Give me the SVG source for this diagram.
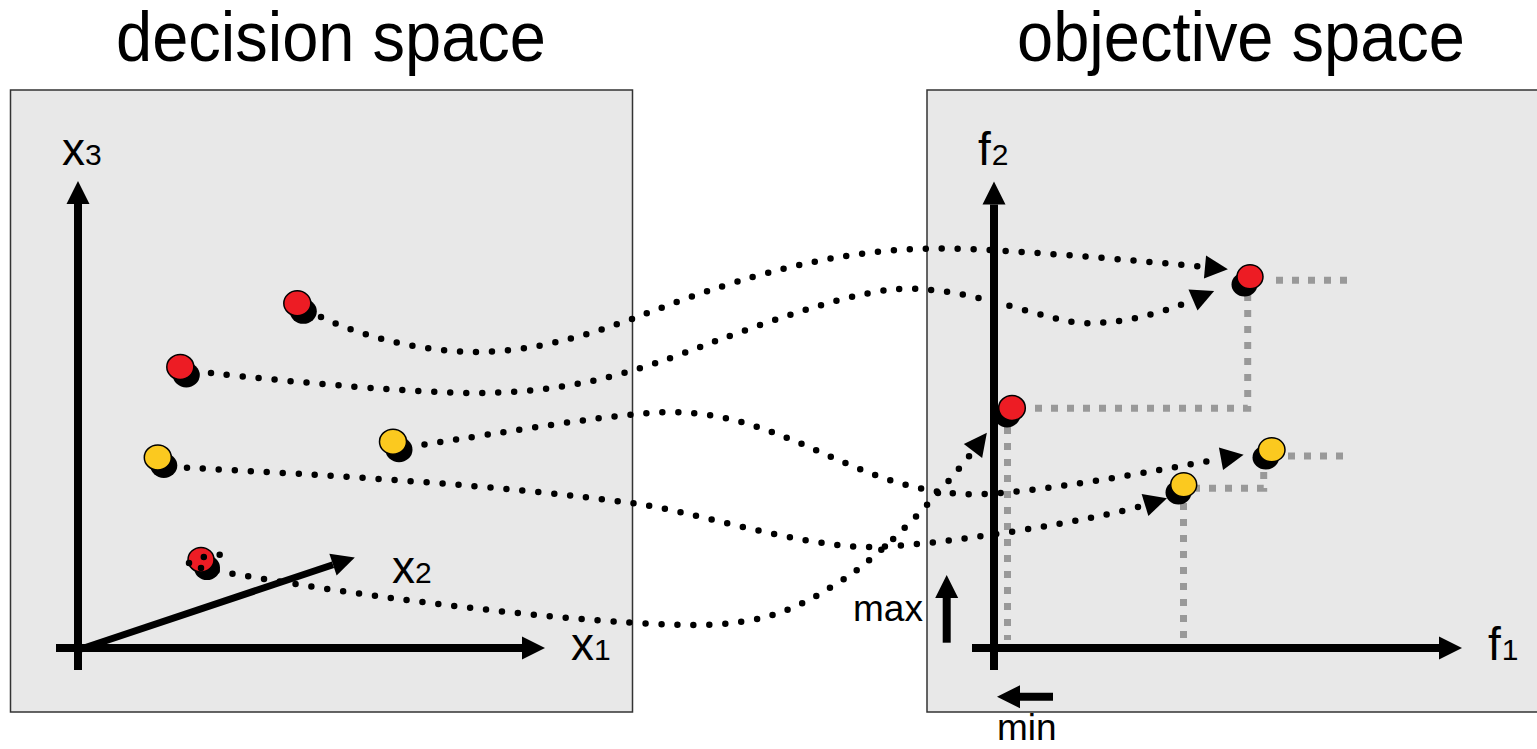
<svg xmlns="http://www.w3.org/2000/svg" width="1537" height="749" viewBox="0 0 1537 749">
<style>
.box{fill:#e8e8e8;stroke:#333;stroke-width:1.5}
.axis{fill:none;stroke:#000;stroke-width:8;marker-end:url(#ah)}
.axis2{fill:none;stroke:#000;stroke-width:7;marker-end:url(#ah)}
.conn{fill:none;stroke:#000;stroke-width:6.5;stroke-linecap:round;stroke-dasharray:0 16;marker-end:url(#ah)}
.curl{fill:none;stroke:#000;stroke-width:6.5;stroke-linecap:round;stroke-dasharray:0 16}
.front{fill:none;stroke:#999;stroke-width:7;stroke-dasharray:7 9}
.shadow{fill:#000}
.red{fill:#ed1c24;stroke:#000;stroke-width:1.5}
.yellow{fill:#fbc91f;stroke:#000;stroke-width:1.5}
text{font-family:"Liberation Sans",Arial,Helvetica,sans-serif;fill:#000}
.title{font-size:65px}
.lbl{font-size:46px}
.sub{font-size:30px}
.small{font-size:37px}
</style>
<defs>
<marker id="ah" markerUnits="userSpaceOnUse" orient="auto" markerWidth="1" markerHeight="1" refX="0" refY="0" overflow="visible">
<path d="M0,-11.5 L23,0 L0,11.5 z" fill="#000" stroke="none"/>
</marker>
</defs>

<g id="decision-space">
<rect class="box" x="10.5" y="90" width="622" height="622"/>
<text class="title" transform="translate(331,61) scale(1,1.07)" text-anchor="middle">decision space</text>
</g>
<g id="objective-space">
<rect class="box" x="927" y="90" width="620" height="622"/>
<text class="title" transform="translate(1241,61) scale(1,1.07)" text-anchor="middle">objective space</text>
</g>

<g id="attainment-lines">
<path class="front" d="M1276,280.3 H1348"/>
<path class="front" d="M1247.7,294 V408.3 H1030"/>
<path class="front" d="M1007.5,427 V640"/>
<path class="front" d="M1288,456 H1346"/>
<path class="front" d="M1263.7,472 V488.3 H1196"/>
<path class="front" d="M1183.5,503 V640"/>
</g>

<g id="decision-axes">
<path class="axis" d="M78,670 V204"/>
<path class="axis" d="M56,648 H522"/>
<path class="axis2" d="M78,650 L333,564.7"/>
<text class="lbl" x="62" y="165">x<tspan class="sub">3</tspan></text>
<text class="lbl" x="571" y="660">x<tspan class="sub">1</tspan></text>
<text class="lbl" x="392" y="583">x<tspan class="sub">2</tspan></text>
</g>

<g id="objective-axes">
<path class="axis" d="M994,670 V204.5"/>
<path class="axis" d="M972,648 H1439"/>
<text class="lbl" x="978" y="165">f<tspan class="sub" dx="1">2</tspan></text>
<text class="lbl" x="1488" y="660">f<tspan class="sub" dx="1">1</tspan></text>
</g>

<g id="max-indicator">
<path class="axis" d="M946.7,642.7 V598"/>
<text class="small" x="853" y="621">max</text>
</g>
<g id="min-indicator">
<path class="axis" d="M1053,696.7 H1020"/>
<text class="small" x="997" y="740">min</text>
</g>

<g id="d-red-1"><ellipse class="shadow" cx="303.3" cy="311.3" rx="13.5" ry="12.5"/><ellipse class="red" cx="297.3" cy="303.3" rx="13.5" ry="12.5"/></g>
<g id="d-red-2"><ellipse class="shadow" cx="186.3" cy="375" rx="13.5" ry="12.5"/><ellipse class="red" cx="180.3" cy="367" rx="13.5" ry="12.5"/></g>
<g id="d-yellow-1"><ellipse class="shadow" cx="163.8" cy="465.5" rx="13.5" ry="12.5"/><ellipse class="yellow" cx="157.8" cy="457.5" rx="13.5" ry="12.5"/></g>
<g id="d-yellow-2"><ellipse class="shadow" cx="399" cy="449.7" rx="13.5" ry="12.5"/><ellipse class="yellow" cx="393" cy="441.7" rx="13.5" ry="12.5"/></g>
<g id="d-red-3"><ellipse class="shadow" cx="207" cy="567.7" rx="13" ry="12.3"/><ellipse class="red" cx="201" cy="559.7" rx="13" ry="12.3"/></g>

<g id="o-red-1"><ellipse class="shadow" cx="1244.5" cy="284.5" rx="13" ry="12"/><ellipse class="red" cx="1250" cy="276.7" rx="13" ry="12"/></g>
<g id="o-red-2"><ellipse class="shadow" cx="1007" cy="415" rx="13.3" ry="12.5"/><ellipse class="red" cx="1012" cy="408" rx="13.3" ry="12.5"/></g>
<g id="o-yellow-1"><ellipse class="shadow" cx="1265.8" cy="457.5" rx="13.3" ry="12"/><ellipse class="yellow" cx="1271.7" cy="449.7" rx="13.3" ry="12"/></g>
<g id="o-yellow-2"><ellipse class="shadow" cx="1178.5" cy="492.5" rx="13" ry="12"/><ellipse class="yellow" cx="1183.7" cy="484.7" rx="13" ry="12"/></g>

<g id="connectors">
<path class="conn" d="M321,317 C370,340 430,352 476,352 C560,352 640,315 682,300 C782,264.4 860,248.5 940,248.5 C1000,248.5 1130,260 1205,267"/>
<path class="conn" d="M211,373 C300,383 420,393 475,393 C590,393 660,361.7 716,341 C776,318.8 860,288.7 907,288.7 C980,288.7 1048,323.2 1088,323.2 C1120,323.2 1158,315 1193,300"/>
<path class="conn" d="M424.5,444.5 C500,433 620,412.2 671,412.2 C789,412.2 857,494.3 975,494.3 C1030,494.3 1160,470 1221,458.8"/>
<path class="conn" d="M187,467.8 C330,475 500,485 634,503.3 C694,511.5 800,547 870,547 C930,547 1095,520.4 1145,505"/>
<path class="curl" d="M189,563 L203.5,557 L220,554.8"/>
<path class="conn" d="M201,568 C380,601 600,625 694,625 C770,625 804,604.6 844,579 C884,553.4 943,490.6 973,451"/>
</g>
</svg>
